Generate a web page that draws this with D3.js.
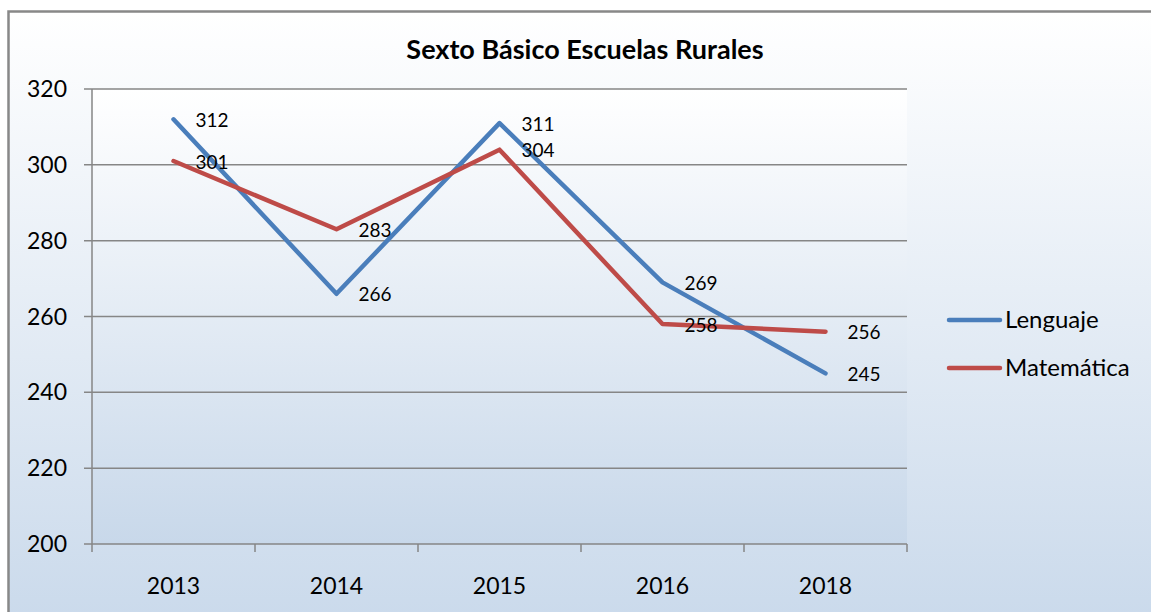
<!DOCTYPE html>
<html>
<head>
<meta charset="utf-8">
<script src="https://cdn.jsdelivr.net/npm/d3@7"></script>
<style>
  body { margin: 0; background: #fff; }
  svg { display: block; font-family: Lato, "Open Sans", sans-serif; }
</style>
</head>
<body>
<svg id="chart" width="1151" height="612"></svg>
<script>
var years = ["2013", "2014", "2015", "2016", "2018"];
var lenguaje = [312, 266, 311, 269, 245];
var matematica = [301, 283, 304, 258, 256];
var yTicks = [200, 220, 240, 260, 280, 300, 320];

var series = [
  { name: "Lenguaje", values: lenguaje, color: "#4a7ebb" },
  { name: "Matemática", values: matematica, color: "#be4b48" }
];

var svg = d3.select("#chart"),
    width = +svg.attr("width"),
    height = +svg.attr("height"),
    plot = { left: 92, right: 907, top: 89, bottom: 544 };

var defs = svg.append("defs");
var bg = defs.append("linearGradient").attr("id", "bg")
    .attr("x1", 0).attr("y1", 0).attr("x2", 0).attr("y2", 1);
bg.append("stop").attr("offset", "0%").attr("stop-color", "#ffffff");
bg.append("stop").attr("offset", "100%").attr("stop-color", "#c9d9eb");
var pg = defs.append("linearGradient").attr("id", "pg")
    .attr("x1", 0).attr("y1", 0).attr("x2", 0).attr("y2", 1);
pg.append("stop").attr("offset", "0%").attr("stop-color", "#ffffff");
pg.append("stop").attr("offset", "100%").attr("stop-color", "#c8d8ea");

// chart area with border
svg.append("rect")
    .attr("x", 8.5).attr("y", 11.5)
    .attr("width", width + 10).attr("height", height + 10)
    .attr("fill", "url(#bg)")
    .attr("stroke", "#888").attr("stroke-width", 2.5);

svg.append("rect")
    .attr("x", plot.left).attr("y", plot.top)
    .attr("width", plot.right - plot.left).attr("height", plot.bottom - plot.top)
    .attr("fill", "url(#pg)");

var x = d3.scaleBand().domain(years).range([plot.left, plot.right]);
var y = d3.scaleLinear().domain([200, 320]).range([plot.bottom, plot.top]);

// gridlines
svg.append("g").selectAll("line")
    .data(yTicks)
    .join("line")
    .attr("x1", plot.left - 8).attr("x2", plot.right)
    .attr("y1", function (d) { return y(d); })
    .attr("y2", function (d) { return y(d); })
    .attr("stroke", "#868686").attr("stroke-width", 1.5);

// y axis line
svg.append("line")
    .attr("x1", plot.left).attr("x2", plot.left)
    .attr("y1", plot.top).attr("y2", plot.bottom)
    .attr("stroke", "#868686").attr("stroke-width", 1.5);

// x ticks at band edges
var edges = years.map(function (d) { return x(d); }).concat([plot.right]);
svg.append("g").selectAll("line")
    .data(edges)
    .join("line")
    .attr("x1", function (d) { return d; }).attr("x2", function (d) { return d; })
    .attr("y1", plot.bottom).attr("y2", plot.bottom + 8)
    .attr("stroke", "#868686").attr("stroke-width", 1.5);

svg.append("g").selectAll("text")
    .data(yTicks)
    .join("text")
    .attr("x", 67).attr("y", function (d) { return y(d); })
    .attr("dy", "0.35em")
    .attr("text-anchor", "end")
    .attr("font-size", 23)
    .text(function (d) { return d; });

svg.append("g").selectAll("text")
    .data(years)
    .join("text")
    .attr("x", function (d) { return x(d) + x.bandwidth() / 2; })
    .attr("y", 586)
    .attr("dy", "0.35em")
    .attr("text-anchor", "middle")
    .attr("font-size", 23)
    .text(function (d) { return d; });

var line = d3.line()
    .x(function (d, i) { return x(years[i]) + x.bandwidth() / 2; })
    .y(function (d) { return y(d); });

series.forEach(function (s) {
  svg.append("path")
    .attr("d", line(s.values))
    .attr("fill", "none")
    .attr("stroke", s.color)
    .attr("stroke-width", 4.5)
    .attr("stroke-linejoin", "round")
    .attr("stroke-linecap", "round");
});

series.forEach(function (s) {
  svg.append("g").selectAll("text")
    .data(s.values)
    .join("text")
    .attr("x", function (d, i) { return x(years[i]) + x.bandwidth() / 2 + 22; })
    .attr("y", function (d) { return y(d) + 1; })
    .attr("dy", "0.35em")
    .attr("font-size", 19)
    .text(function (d) { return d; });
});

svg.append("text")
    .attr("x", 585).attr("y", 50)
    .attr("dy", "0.35em")
    .attr("text-anchor", "middle")
    .attr("font-size", 27)
    .attr("font-weight", "bold")
    .text("Sexto Básico Escuelas Rurales");

var legend = svg.append("g").selectAll("g")
    .data(series)
    .join("g")
    .attr("transform", function (d, i) { return "translate(947," + (320 + i * 48) + ")"; });
legend.append("line")
    .attr("x1", 2).attr("x2", 53)
    .attr("stroke", function (d) { return d.color; })
    .attr("stroke-width", 4.5)
    .attr("stroke-linecap", "round");
legend.append("text")
    .attr("x", 58).attr("dy", "0.35em")
    .attr("font-size", 24)
    .text(function (d) { return d.name; });
</script>
</body>
</html>
